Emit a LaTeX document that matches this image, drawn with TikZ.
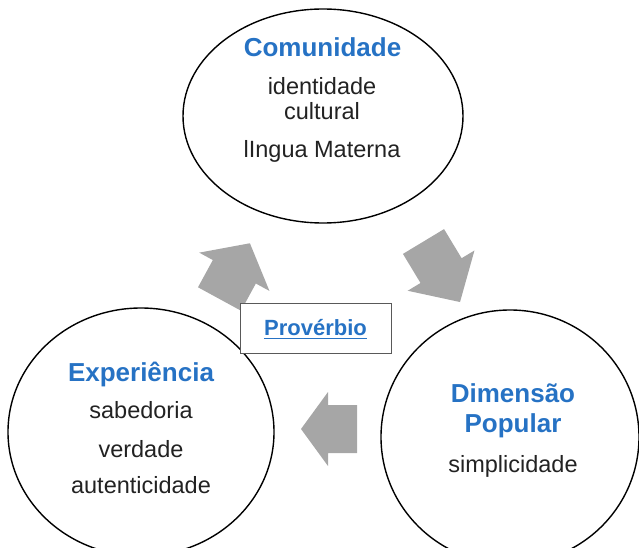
\documentclass[tikz,border=0pt]{standalone}
\usepackage{fontspec}
\setmainfont{Liberation Sans}
\usetikzlibrary{shapes.geometric}
\definecolor{titleblue}{HTML}{2672C4}
\definecolor{arrowgray}{HTML}{A6A6A6}
\definecolor{boxgray}{HTML}{595959}
\definecolor{bodytext}{HTML}{222222}
\tikzset{
  bubble/.style={ellipse, draw=black, line width=1.4pt, inner sep=0pt},
  ttl/.style={font=\fontsize{26}{30}\selectfont\bfseries, text=titleblue, inner sep=0pt, anchor=base},
  bdy/.style={font=\fontsize{23.5}{28}\selectfont, text=bodytext, inner sep=0pt, anchor=base},
  blockarr/.style={fill=arrowgray},
}
\begin{document}
\begin{tikzpicture}[x=1pt,y=1pt]
\useasboundingbox (0,0) rectangle (639,547);
\begin{scope}
\clip (0,0) rectangle (639,547);
% bubbles
\node[bubble, minimum width=280pt, minimum height=214pt] (com) at (323,431) {};
\node[bubble, minimum width=266pt, minimum height=248pt] (exp) at (141,115) {};
\node[bubble, minimum width=258pt, minimum height=254pt] (dim) at (510,110) {};
\end{scope}
% block arrows
\fill[blockarr, shift={(219.5,248)}, rotate=61.4]
  (0,-24.5) -- (31,-24.5) -- (31,-40) -- (63.5,0) -- (31,40) -- (31,24.5) -- (0,24.5) -- cycle;
\fill[blockarr, shift={(423.5,305.5)}, rotate=-58.9]
  (0,-24) -- (34,-24) -- (34,-39) -- (70.7,0) -- (34,39) -- (34,24) -- (0,24) -- cycle;
\fill[blockarr, shift={(357,118)}, rotate=180]
  (0,-24) -- (29,-24) -- (29,-37) -- (56,0) -- (29,37) -- (29,24) -- (0,24) -- cycle;
% central box
\node[draw=boxgray, line width=0.9pt, fill=white, minimum width=151pt, minimum height=50pt, inner sep=0pt] (prov) at (315.5,219) {};
\node[font=\fontsize{22}{26}\selectfont\bfseries, text=titleblue, inner sep=0pt, anchor=base] (provT) at (315.5,212) {Provérbio};
\draw[titleblue, line width=1.6pt] ([yshift=-3.5pt]provT.base west) -- ([yshift=-3.5pt]provT.base east);
% Comunidade
\node[ttl] (comT) at (322.5,490) {Comunidade};
\node[bdy] (com1) at (322,452) {identidade};
\node[bdy] (com2) at (322,427) {cultural};
\node[bdy] (com3) at (322,389) {lIngua Materna};
% Experiencia
\node[ttl] (expT) at (141,166) {Experiência};
\node[bdy] (exp1) at (141,129) {sabedoria};
\node[bdy] (exp2) at (141,90) {verdade};
\node[bdy] (exp3) at (141,54) {autenticidade};
% Dimensao Popular
\node[ttl] (dimT1) at (513,145) {Dimensão};
\node[ttl] (dimT2) at (513,115) {Popular};
\node[bdy] (dim1) at (513,75) {simplicidade};
\end{tikzpicture}
\end{document}
